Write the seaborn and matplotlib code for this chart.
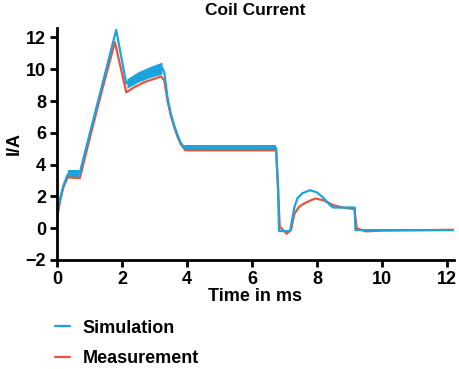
import numpy as np
import pandas as pd
import matplotlib
matplotlib.use("Agg")
import matplotlib.pyplot as plt
import seaborn as sns

# simulation (blue) - centre line
sim_t = [0.0, 0.1, 0.2, 0.33, 0.69, 1.0, 1.4, 1.82, 2.13, 2.4, 2.7, 3.0, 3.23,
         3.3, 3.4, 3.5, 3.6, 3.7, 3.8, 3.92, 5.0, 6.74, 6.8, 6.83, 7.17, 7.3,
         7.4, 7.55, 7.78, 8.0, 8.2, 8.4, 8.5, 9.16, 9.18, 9.3, 12.2]
sim_i = [0.7, 1.9, 2.7, 3.4, 3.4, 5.9, 9.1, 12.47, 9.1, 9.5, 9.75, 9.95, 10.1,
         9.8, 8.2, 7.2, 6.5, 5.9, 5.4, 5.05, 5.05, 5.05, 2.5, -0.18, -0.18, 1.3,
         1.9, 2.2, 2.39, 2.25, 1.9, 1.45, 1.3, 1.3, -0.12, -0.12, -0.12]

# measurement (red)
meas_t = [0.0, 0.1, 0.2, 0.33, 0.7, 1.0, 1.4, 1.78, 2.13, 2.4, 2.7, 3.0, 3.2,
          3.3, 3.4, 3.5, 3.6, 3.7, 3.8, 3.95, 5.0, 6.74, 6.8, 6.85, 7.07, 7.2,
          7.3, 7.45, 7.6, 7.8, 7.95, 8.2, 8.5, 8.8, 9.15, 9.22, 9.5, 10.0, 12.2]
meas_i = [0.7, 1.8, 2.6, 3.2, 3.15, 5.6, 8.8, 11.7, 8.55, 8.9, 9.2, 9.4, 9.55,
          9.3, 8.0, 7.1, 6.4, 5.8, 5.3, 4.9, 4.9, 4.9, 2.5, 0.1, -0.35, -0.1,
          0.9, 1.35, 1.55, 1.75, 1.87, 1.75, 1.45, 1.3, 1.2, 0.0, -0.2, -0.15, -0.1]

# ripple bands of the simulation (PWM)
band_t = [[0.33, 0.69], [2.15, 2.5, 2.9, 3.23], [3.92, 6.74]]
band_lo = [[3.2, 3.2], [8.8, 9.2, 9.5, 9.7], [4.88, 4.88]]
band_hi = [[3.65, 3.65], [9.4, 9.85, 10.2, 10.45], [5.22, 5.22]]

xticks = [0, 2, 4, 6, 8, 10, 12]
yticks = [-2, 0, 2, 4, 6, 8, 10, 12]

blue = "#1ba3dd"
red = "#e8533a"

sns.set_style("white")
plt.rcParams['font.family'] = ['Liberation Sans', 'DejaVu Sans']
plt.rcParams['font.weight'] = 'bold'
plt.rcParams['text.color'] = 'black'
plt.rcParams['axes.labelcolor'] = 'black'
plt.rcParams['xtick.color'] = 'black'
plt.rcParams['ytick.color'] = 'black'

df = pd.concat([
    pd.DataFrame({"t": meas_t, "i": meas_i, "series": "Measurement"}),
    pd.DataFrame({"t": sim_t, "i": sim_i, "series": "Simulation"}),
])

fig = plt.figure(figsize=(4.6, 3.69), dpi=100)
ax = fig.add_axes([0.124, 0.2954, 0.862, 0.629])

sns.lineplot(data=df[df.series == "Measurement"], x="t", y="i", color=red,
             lw=1.6, ax=ax, label="Measurement", sort=False)
for bt, lo, hi in zip(band_t, band_lo, band_hi):
    ax.fill_between(bt, lo, hi, color=blue, lw=0)
sns.lineplot(data=df[df.series == "Simulation"], x="t", y="i", color=blue,
             lw=1.6, ax=ax, label="Simulation", sort=False)

ax.set_xlim(0, 12.2)
ax.set_ylim(-2, 12.6)
ax.set_xticks(xticks)
ax.set_yticks(yticks)
ax.tick_params(axis="both", direction="out", length=5, width=2, labelsize=13,
               color="black", labelcolor="black", left=True, bottom=True, pad=3)
for lab in ax.get_xticklabels() + ax.get_yticklabels():
    lab.set_fontweight("bold")
for s in ["top", "right"]:
    ax.spines[s].set_visible(False)
for s in ["left", "bottom"]:
    ax.spines[s].set_linewidth(2)
    ax.spines[s].set_color("black")

ax.set_xlabel("Time in ms", fontsize=13, fontweight="bold", labelpad=0)
ax.set_ylabel("I/A", fontsize=13, fontweight="bold", labelpad=2)
ax.set_title("Coil Current", fontsize=12.5, fontweight="bold", pad=9)

h, l = ax.get_legend_handles_labels()
order = [l.index("Simulation"), l.index("Measurement")]
ax.legend([h[k] for k in order], [l[k] for k in order],
          loc="upper left", bbox_to_anchor=(0.085, 0.178),
          bbox_transform=fig.transFigure, frameon=False,
          prop={"weight": "bold", "size": 13}, handlelength=0.8,
          handletextpad=0.7, labelspacing=0.75)

fig.savefig("out.png", dpi=100)
